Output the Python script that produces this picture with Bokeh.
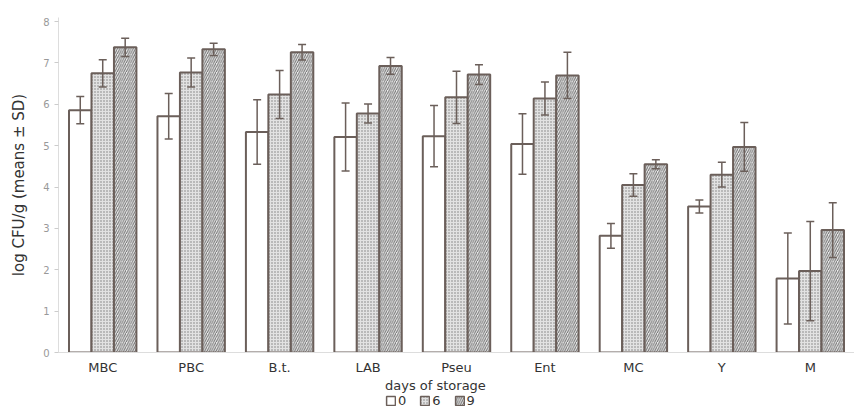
from bokeh.plotting import figure
from bokeh.layouts import column
from bokeh.models import (ColumnDataSource, Whisker, Legend, LegendItem, FactorRange,
                          Range1d, FixedTicker, TeeHead)
from bokeh.transform import dodge
from bokeh.embed import file_html
from bokeh.resources import INLINE

categories = ["MBC", "PBC", "B.t.", "LAB", "Pseu", "Ent", "MC", "Y", "M"]
days = ["0", "6", "9"]
mean_d0 = [5.86, 5.71, 5.33, 5.21, 5.23, 5.04, 2.82, 3.53, 1.79]
sd_d0 = [0.33, 0.55, 0.78, 0.82, 0.74, 0.73, 0.30, 0.16, 1.10]
mean_d6 = [6.75, 6.77, 6.24, 5.78, 6.17, 6.14, 4.05, 4.30, 1.97]
sd_d6 = [0.33, 0.35, 0.58, 0.23, 0.63, 0.40, 0.27, 0.30, 1.20]
mean_d9 = [7.38, 7.33, 7.26, 6.93, 6.72, 6.70, 4.55, 4.97, 2.96]
sd_d9 = [0.22, 0.15, 0.19, 0.20, 0.24, 0.56, 0.11, 0.59, 0.66]
y_ticks = [0, 1, 2, 3, 4, 5, 6, 7, 8]

FONT = "DejaVu Sans"
EDGE = "#6b5f5a"
BW = 0.254

p = figure(x_range=FactorRange(factors=categories, range_padding=0),
           y_range=Range1d(0, 8.1),
           width=854, height=377, output_backend="svg", toolbar_location=None,
           min_border_left=58, min_border_right=0, min_border_top=17, min_border_bottom=24)
p.outline_line_color = None
p.xgrid.grid_line_color = None
p.ygrid.grid_line_color = None

styles = [
    dict(fill_color="white"),
    dict(fill_color="#e2e2e2", hatch_pattern="dot", hatch_color="#7a7a7a", hatch_scale=3.0, hatch_weight=1.2),
    dict(fill_color="#ececec", hatch_pattern="right_diagonal_line", hatch_color="#707070", hatch_scale=4.5, hatch_weight=1.0),
]
series = [(mean_d0, sd_d0), (mean_d6, sd_d6), (mean_d9, sd_d9)]
offsets = [-BW, 0.0, BW]

for (m, s), off, st in zip(series, offsets, styles):
    src = ColumnDataSource(dict(cat=categories, mean=m,
                                upper=[a + b for a, b in zip(m, s)],
                                lower=[a - b for a, b in zip(m, s)]))
    p.vbar(x=dodge("cat", off, range=p.x_range), top="mean", width=BW, source=src,
           line_color=EDGE, line_width=2, **st)
    w = Whisker(base=dodge("cat", off, range=p.x_range), upper="upper", lower="lower", source=src,
                line_color=EDGE, line_width=1.5, level="overlay",
                upper_head=TeeHead(size=8, line_color=EDGE, line_width=1.5),
                lower_head=TeeHead(size=8, line_color=EDGE, line_width=1.5))
    p.add_layout(w)

# axes
yax = p.yaxis[0]
yax.ticker = FixedTicker(ticks=y_ticks)
yax.axis_line_color = "#dddddd"
yax.major_tick_line_color = "#cccccc"
yax.major_tick_out = 4
yax.major_tick_in = 0
yax.minor_tick_line_color = None
yax.major_label_text_color = "#999999"
yax.major_label_text_font_size = "10px"
yax.major_label_text_font = FONT
yax.axis_label = "log CFU/g (means ± SD)"
yax.axis_label_text_font = FONT
yax.axis_label_text_font_size = "15px"
yax.axis_label_text_font_style = "normal"
yax.axis_label_text_color = "#333333"
yax.axis_label_standoff = 12

xax = p.xaxis[0]
xax.axis_line_color = "#dddddd"
xax.major_tick_line_color = None
xax.major_tick_out = 0
xax.major_label_standoff = 7
xax.major_label_text_font = FONT
xax.major_label_text_font_size = "13px"
xax.major_label_text_color = "#333333"

# legend panel below the chart
lg = figure(width=854, height=31, output_backend="svg", toolbar_location=None,
            x_range=Range1d(0, 1), y_range=Range1d(0, 1),
            min_border_left=0, min_border_right=0, min_border_top=0, min_border_bottom=0)
lg.axis.visible = False
lg.grid.visible = False
lg.outline_line_color = None
items = []
for st, d in zip(styles, days):
    r = lg.vbar(x=[0.5], top=[float("nan")], width=0.1, line_color=EDGE, line_width=1.5, **st)
    items.append(LegendItem(label=d, renderers=[r]))

legend = Legend(items=items, orientation="horizontal", location=(327, 0),
                title="days of storage", title_text_font=FONT, title_text_font_size="13px",
                title_text_font_style="normal", title_text_color="#333333", title_standoff=0,
                label_text_font=FONT, label_text_font_size="13px", label_text_color="#333333",
                glyph_width=11, glyph_height=11, label_standoff=2, spacing=13,
                label_width=8, padding=0, margin=0, border_line_color=None,
                background_fill_alpha=0, label_height=12)
lg.add_layout(legend, "center")

open("out.html", "w").write(file_html(column(p, lg), INLINE))
